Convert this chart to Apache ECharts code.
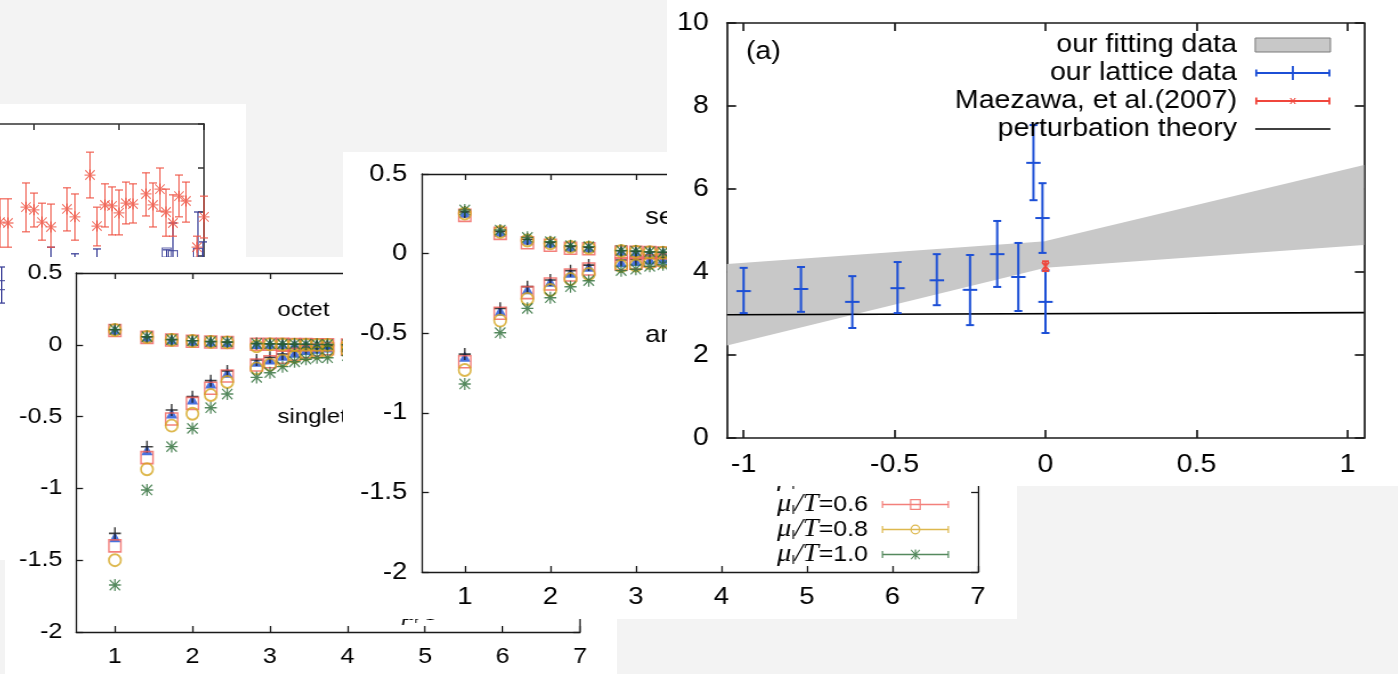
<!DOCTYPE html>
<html><head><meta charset="utf-8">
<script src="https://cdn.jsdelivr.net/npm/echarts@6.0.0/dist/echarts.min.js"></script>
<style>
html,body{margin:0;padding:0;}
body{width:1398px;height:674px;background:#f3f3f3;position:relative;overflow:hidden;}
.panel{position:absolute;background:#fff;overflow:hidden;}
.inner{position:absolute;top:0;left:0;transform-origin:0 0;}
</style></head><body>
<div id="pA" class="panel"><div id="cA" class="inner"></div></div>
<div id="pB" class="panel"><div id="cB" class="inner"></div></div>
<div id="pC" class="panel"><div id="cC" class="inner"></div></div>
<div id="pD" class="panel"><div id="cD" class="inner"></div></div>
<script>
// ================= DATA =================
// Panel A (upper-left, mostly covered figure)
const aRedX  = [1.600,1.694,1.906,2.000,2.094,2.200,2.388,2.482,2.659,2.741,2.835,2.918,3.000,3.082,3.165,3.318,3.400,3.482,3.553,3.635,3.706,3.788,3.918,4.000];
const aRedY  = [7.77,7.75,8.11,8.05,7.77,7.66,8.07,7.89,8.84,7.68,8.16,8.14,7.98,8.20,8.18,8.41,8.16,8.52,8.00,7.75,8.36,8.25,7.20,7.89];
const aRedLo = [7.20,7.20,7.55,7.66,7.36,7.20,7.57,7.36,8.32,7.23,7.66,7.48,7.48,7.73,7.75,7.91,7.66,8.02,7.45,7.45,7.89,7.77,6.95,7.41];
const aRedHi = [8.30,8.30,8.66,8.43,8.20,8.18,8.55,8.41,9.36,8.11,8.64,8.57,8.50,8.68,8.64,8.89,8.66,9.00,8.52,8.39,8.84,8.68,7.45,8.36];
const aBlueX = [1.62,2.200,2.482,2.741,3.561,3.635,3.929,3.988];
const aBlueY = [6.34,6.60,6.50,6.60,7.08,7.02,7.07,6.70];
const aBlueLo= [5.93,6.00,5.90,6.00,6.60,6.40,6.50,6.20];
const aBlueHi= [6.75,7.20,7.05,7.16,7.14,7.75,8.00,7.32];

// Series names / tick labels
const muNames = ['μl/T=0.2','μl/T=0.4','μl/T=0.6','μl/T=0.8','μl/T=1.0'];
const xTicks17 = [1,2,3,4,5,6,7];
const xTicksD = [-1,-0.5,0,0.5,1];

// Panel B (octet / singlet)
const bX = [1,1.414,1.732,2,2.236,2.449,2.828,3,3.162,3.317,3.464,3.606,3.742,4];
const bOctet02 = [0.105,0.055,0.036,0.028,0.022,0.019,0.008,0.006,0.005,0.004,0.003,0.002,0.002,0.001];
const bOctet04 = [0.104,0.054,0.035,0.027,0.021,0.018,0.007,0.006,0.005,0.004,0.003,0.002,0.002,0.001];
const bOctet06 = [0.100,0.052,0.033,0.025,0.019,0.016,0.004,0.004,0.003,0.002,0.001,0.000,0.000,-0.001];
const bOctet08 = [0.103,0.054,0.034,0.026,0.020,0.017,-0.010,0.003,0.002,0.001,0.000,-0.001,-0.001,-0.002];
const bOctet10 = [0.107,0.057,0.037,0.029,0.023,0.020,0.009,0.007,0.006,0.005,0.004,0.003,0.002,0.001];
const bSinglet02 = [-1.313,-0.710,-0.454,-0.361,-0.250,-0.182,-0.106,-0.087,-0.064,-0.043,-0.024,-0.018,-0.008,-0.010];
const bSinglet04 = [-1.340,-0.733,-0.477,-0.380,-0.268,-0.194,-0.118,-0.101,-0.076,-0.055,-0.036,-0.027,-0.018,-0.020];
const bSinglet06 = [-1.400,-0.786,-0.517,-0.408,-0.303,-0.217,-0.141,-0.118,-0.087,-0.066,-0.048,-0.036,-0.027,-0.030];
const bSinglet08 = [-1.500,-0.867,-0.563,-0.480,-0.350,-0.259,-0.164,-0.138,-0.110,-0.083,-0.066,-0.055,-0.048,-0.045];
const bSinglet10 = [-1.673,-1.011,-0.709,-0.582,-0.438,-0.343,-0.227,-0.194,-0.152,-0.118,-0.100,-0.090,-0.090,-0.075];

// Panel C (sextet / antitriplet)
const cX = [1,1.414,1.732,2,2.236,2.449,2.828,3,3.162,3.317];
const cSextet02 = [0.262,0.140,0.090,0.070,0.045,0.040,0.018,0.014,0.010,0.008];
const cSextet04 = [0.258,0.138,0.088,0.068,0.044,0.039,0.017,0.013,0.009,0.007];
const cSextet06 = [0.240,0.127,0.068,0.052,0.034,0.030,0.010,0.008,0.006,0.004];
const cSextet08 = [0.252,0.136,0.082,0.064,0.042,0.037,0.016,0.012,0.009,0.006];
const cSextet10 = [0.274,0.148,0.102,0.075,0.050,0.044,0.020,0.016,0.012,0.009];
const cAnti02 = [-0.631,-0.344,-0.208,-0.166,-0.107,-0.072,-0.040,-0.036,-0.029,-0.025];
const cAnti04 = [-0.647,-0.358,-0.224,-0.176,-0.120,-0.082,-0.053,-0.046,-0.036,-0.032];
const cAnti06 = [-0.679,-0.375,-0.245,-0.191,-0.134,-0.097,-0.065,-0.060,-0.046,-0.040];
const cAnti08 = [-0.731,-0.421,-0.285,-0.229,-0.160,-0.128,-0.078,-0.075,-0.060,-0.052];
const cAnti10 = [-0.819,-0.497,-0.344,-0.277,-0.208,-0.170,-0.107,-0.098,-0.080,-0.070];

// Panel D (a)
const dLatticeX  = [-1.00,-0.81,-0.64,-0.49,-0.36,-0.25,-0.16,-0.09,-0.04,-0.01,0.00];
const dLatticeY  = [3.54,3.59,3.28,3.61,3.80,3.57,4.43,3.88,6.63,5.30,3.28];
const dLatticeLo = [3.01,3.04,2.65,3.01,3.20,2.72,3.64,3.06,5.73,4.46,2.53];
const dLatticeHi = [4.10,4.12,3.90,4.24,4.43,4.41,5.23,4.70,7.54,6.14,4.03];
const dMaezawaX = [0.00], dMaezawaY = [4.14], dMaezawaLo = [4.02], dMaezawaHi = [4.26];
const dBandX  = [-1.055, 0.0, 0.0, 1.055];
const dBandLo = [2.23, 4.10, 4.10, 4.65];
const dBandHi = [4.19, 4.74, 4.75, 6.58];
const dBandId = [0, 0, 1, 1];
const dPertX = [-1.055, 1.055];
const dPertY = [2.97, 3.02];
const dLegendNames = ['our fitting data','our lattice data','Maezawa, et al.(2007)','perturbation theory'];

// ================= LAYOUT / STYLE =================
const FONT = "'Liberation Sans', Arial, Helvetica, sans-serif";
const SERIF = "'Liberation Serif', 'DejaVu Serif', serif";
const S = 1.14; // horizontal stretch of the scanned figures
const LAY = {
  A: {left:0, top:104, w:246, h:456},
  B: {left:5, top:257, w:612, h:417, plot:[76,273,579,632]},
  C: {left:343, top:152, w:674, h:467, plot:[422,174,978,572]},
  D: {left:667, top:0, w:731, h:486, plot:[727,23,1364,438]}
};
['A','B','C','D'].forEach(k => {
  const p = document.getElementById('p' + k), L = LAY[k];
  p.style.left = L.left + 'px'; p.style.top = L.top + 'px';
  p.style.width = L.w + 'px'; p.style.height = L.h + 'px';
});
function chartIn(id, w, h, stretch, offX) {
  const el = document.getElementById(id);
  const iw = w / stretch;
  el.style.width = iw + 'px'; el.style.height = h + 'px';
  el.style.left = (offX || 0) + 'px';
  if (stretch !== 1) el.style.transform = 'scaleX(' + stretch + ')';
  return echarts.init(el, null, {renderer:'canvas', width: iw, height: h});
}
function gridFor(L) {
  return {left:(L.plot[0]-L.left)/S, top:L.plot[1]-L.top, width:(L.plot[2]-L.plot[0])/S,
          height:L.plot[3]-L.plot[1], containLabel:false, outerBoundsMode:'none'};
}
function boxAxes(c) {
  const ls = {color:c.axisColor || '#1a1a1a', width:c.lw};
  const tick = (cv) => Object.assign({show:true, inside:true, length:c.tickLen, lineStyle:ls}, cv ? {customValues:cv} : {});
  const lab = (show, margin, cv) => Object.assign({show, margin, color:'#000', fontSize:c.fs, fontFamily:FONT}, cv ? {customValues:cv} : {});
  const xb = {type:'value', min:c.xmin, max:c.xmax, splitLine:{show:false}, axisLine:{show:true, onZero:false, lineStyle:ls}};
  const yb = {type:'value', min:c.ymin, max:c.ymax, interval:c.yInterval, splitLine:{show:false}, axisLine:{show:true, onZero:false, lineStyle:ls}};
  return {
    xAxis:[
      Object.assign({}, xb, {position:'bottom', axisTick:tick(c.xTicks), axisLabel:lab(c.labels, c.xMargin, c.xTicks)}),
      Object.assign({}, xb, {position:'top', axisTick:tick(c.xTicks), axisLabel:{show:false}})
    ],
    yAxis:[
      Object.assign({}, yb, {position:'left', axisTick:tick(null), axisLabel:lab(c.labels, c.yMargin, null)}),
      Object.assign({}, yb, {position:'right', axisTick:tick(null), axisLabel:{show:false}})
    ]
  };
}
function errRender(color, lw, cap, tick) {
  return function (params, api) {
    const x = api.value(0), c = api.value(1), lo = api.value(2), hi = api.value(3);
    const p = api.coord([x, c]), pl = api.coord([x, lo]), ph = api.coord([x, hi]);
    const st = {stroke:color, lineWidth:lw};
    const ch = [
      {type:'line', shape:{x1:p[0], y1:pl[1], x2:p[0], y2:ph[1]}, style:st},
      {type:'line', shape:{x1:p[0]-cap, y1:pl[1], x2:p[0]+cap, y2:pl[1]}, style:st},
      {type:'line', shape:{x1:p[0]-cap, y1:ph[1], x2:p[0]+cap, y2:ph[1]}, style:st}
    ];
    if (tick) ch.push({type:'line', shape:{x1:p[0]-tick, y1:p[1], x2:p[0]+tick, y2:p[1]}, style:st});
    return {type:'group', children:ch};
  };
}
function rows4(x, y, lo, hi) { return x.map((v,i) => [v, y[i], lo[i], hi[i]]); }

const SYM_PLUS = 'path://M4.3,0h1.4v10h-1.4z M0,4.3h10v1.4h-10z';
const SYM_AST = 'path://M4.4,0h1.2v10h-1.2z M0,4.4h10v1.2h-10z M1.1,0.3L9.7,8.9L8.9,9.7L0.3,1.1Z M8.9,0.3L9.7,1.1L1.1,9.7L0.3,8.9Z';
const MU_COLORS = ['#111111','#1c4fd6','#f0605a','#d4a622','#2b6b36'];
const MU_STYLE = [
  {symbol:SYM_PLUS, w:1, h:1, item:{color:'#111111'}},
  {symbol:'triangle', w:0.95, h:0.85, item:{color:'#1c4fd6'}},
  {symbol:'rect', w:1, h:1, item:{color:'rgba(0,0,0,0)', borderColor:'#f0605a', borderWidth:1.5}},
  {symbol:'circle', w:1, h:1, item:{color:'rgba(0,0,0,0)', borderColor:'#d4a622', borderWidth:1.8}},
  {symbol:SYM_AST, w:1, h:1, item:{color:'#2b6b36'}}
];
const LEG_BASE = 'path://M0,5.3h59v1.4h-59z M0,2.5h1.2v7h-1.2z M57.8,2.5h1.2v7h-1.2z ';
const LEG_ICON = [
  LEG_BASE + 'M29,1h1.2v10h-1.2z M24.5,5.3h10v1.4h-10z',
  LEG_BASE + 'M29.5,1L34.5,10L24.5,10Z',
  LEG_BASE + 'M24.7,0.5h9.6v11h-9.6z M25.9,1.7v8.6h7.2v-8.6z',
  LEG_BASE + 'M25.1,6A4.4,5 0 0,1 33.9,6A4.4,5 0 0,1 25.1,6Z M26.3,6A3.2,3.8 0 0,0 32.7,6A3.2,3.8 0 0,0 26.3,6Z',
  LEG_BASE + 'M29,1h1.2v10h-1.2z M24.5,5.3h10v1.4h-10z M25.3,1.7L26,1L33.7,10.3L33,11Z M33,1L33.7,1.7L26,11L25.3,10.3Z'
];
function muSeries(k, xs, up, lo, size) {
  const data = xs.map((x,i) => [x, up[i]]).concat(xs.map((x,i) => [x, lo[i]]));
  const st = MU_STYLE[k];
  return {type:'scatter', name:muNames[k], data, symbol:st.symbol,
          symbolSize:[size*st.w/S, size*st.h], itemStyle:st.item, z:3, animation:false};
}
function muLegend(right, top, iw, ih, fs, lh, pad) {
  return {
    orient:'vertical', right, top, align:'right', padding:0, itemGap:0,
    itemWidth:iw, itemHeight:ih, selectedMode:false, symbolKeepAspect:true,
    data: muNames.map((n,k) => ({name:n, icon:LEG_ICON[k], itemStyle:{color:MU_COLORS[k], borderWidth:0}})),
    formatter: n => '{mu|μ}{sub|l}{it|/T}{n|=' + n.split('=')[1] + '}',
    textStyle:{color:'#000', padding:[0,pad,0,0], rich:{
      mu:{fontFamily:SERIF, fontStyle:'italic', fontSize:fs+3, lineHeight:lh, color:'#000'},
      sub:{fontFamily:FONT, fontSize:Math.round(fs*0.6), lineHeight:Math.round(fs*0.6), verticalAlign:'bottom', color:'#000'},
      it:{fontFamily:SERIF, fontStyle:'italic', fontSize:fs+3, lineHeight:lh, color:'#000'},
      n:{fontFamily:FONT, fontSize:fs, lineHeight:lh, color:'#000'}
    }}
  };
}
function label(x, y, text, fs) {
  return {type:'text', x, y, style:{text, fontSize:fs, fontFamily:FONT, fill:'#000', verticalAlign:'middle'}};
}

// ================= PANEL A =================
(function () {
  const ch = chartIn('cA', 396, LAY.A.h, 1, -150);
  const ax = boxAxes({xmin:0, xmax:4, xTicks:[1,2,3,4], ymin:0, ymax:10, yInterval:1, fs:12,
                      labels:false, xMargin:8, yMargin:8, tickLen:6, lw:1.5, axisColor:'#333'});
  ch.setOption({
    animation:false,
    grid:{left:14, top:20, width:340, height:440, containLabel:false, outerBoundsMode:'none'},
    xAxis:ax.xAxis, yAxis:ax.yAxis,
    series:[
      {type:'custom', data:rows4(aBlueX,aBlueY,aBlueLo,aBlueHi), renderItem:errRender('#3d4299',1.3,4,0), encode:{x:0,y:[1,2,3]}, z:2},
      {type:'scatter', data:aBlueX.map((x,i)=>[x,aBlueY[i]]), symbol:'rect', symbolSize:9,
       itemStyle:{color:'rgba(0,0,0,0)', borderColor:'#3d4299', borderWidth:1.2}, z:2},
      {type:'custom', data:rows4(aRedX,aRedY,aRedLo,aRedHi), renderItem:errRender('rgba(238,84,68,0.85)',1.3,4,0), encode:{x:0,y:[1,2,3]}, z:3},
      {type:'scatter', data:aRedX.map((x,i)=>[x,aRedY[i]]), symbol:SYM_AST, symbolSize:11,
       itemStyle:{color:'rgba(238,84,68,0.9)'}, z:4}
    ]
  });
})();

// ================= PANEL B =================
(function () {
  const L = LAY.B;
  const ch = chartIn('cB', L.w, L.h, S, 0);
  const ax = boxAxes({xmin:0.5, xmax:7, xTicks:xTicks17, ymin:-2, ymax:0.5, yInterval:0.5, fs:22,
                      labels:true, xMargin:14, yMargin:12, tickLen:6, lw:1.3});
  const octs = [bOctet02,bOctet04,bOctet06,bOctet08,bOctet10];
  const sings = [bSinglet02,bSinglet04,bSinglet06,bSinglet08,bSinglet10];
  ch.setOption({
    animation:false,
    grid:gridFor(L), xAxis:ax.xAxis, yAxis:ax.yAxis,
    legend:muLegend(56, 258, 53, 11, 19, 22, 6),
    graphic:[label((277-L.left)/S, 310-L.top, 'octet', 21), label((277-L.left)/S, 417-L.top, 'singlet', 21)],
    series:[1,0,2,3,4].map(k => muSeries(k, bX, octs[k], sings[k], 12))
  });
})();

// ================= PANEL C =================
(function () {
  const L = LAY.C;
  const ch = chartIn('cC', L.w, L.h, S, 0);
  const ax = boxAxes({xmin:0.5, xmax:7, xTicks:xTicks17, ymin:-2, ymax:0.5, yInterval:0.5, fs:24,
                      labels:true, xMargin:13, yMargin:13, tickLen:6, lw:1.3});
  const ups = [cSextet02,cSextet04,cSextet06,cSextet08,cSextet10];
  const los = [cAnti02,cAnti04,cAnti06,cAnti08,cAnti10];
  const iw = L.w / S;
  ch.setOption({
    animation:false,
    grid:gridFor(L), xAxis:ax.xAxis, yAxis:ax.yAxis,
    legend:muLegend(iw - (949-L.left)/S, 442-L.top, 59, 12, 22, 24.5, 7),
    graphic:[label((645-L.left)/S, 217-L.top, 'sextet', 24), label((645-L.left)/S, 335-L.top, 'antitriplet', 24)],
    series:[1,0,2,3,4].map(k => muSeries(k, cX, ups[k], los[k], 12))
  });
})();

// ================= PANEL D =================
(function () {
  const L = LAY.D;
  const ch = chartIn('cD', L.w, L.h, S, 0);
  const ax = boxAxes({xmin:-1.055, xmax:1.055, xTicks:xTicksD, ymin:0, ymax:10, yInterval:2, fs:25,
                      labels:true, xMargin:15, yMargin:16, tickLen:8, lw:1.7});
  const iw = L.w / S;
  const bandRows = dBandX.map((x,i) => [x, dBandLo[i], dBandHi[i], dBandId[i]]);
  const BLUE = '#1c4fd6', RED = '#f0463c';
  const maezRender = function (params, api) {
    const g = errRender(RED, 1.8, 3, 0)(params, api);
    const p = api.coord([api.value(0), api.value(1)]);
    const st = {stroke:RED, lineWidth:1.8};
    g.children.push({type:'line', shape:{x1:p[0]-3, y1:p[1]-4, x2:p[0]+3, y2:p[1]+4}, style:st});
    g.children.push({type:'line', shape:{x1:p[0]-3, y1:p[1]+4, x2:p[0]+3, y2:p[1]-4}, style:st});
    return g;
  };
  const bandRender = function (params, api) {
    const i = params.dataIndexInside, n = params.dataInsideLength;
    if (i >= n - 1 || api.value(3, i) !== api.value(3, i + 1)) return null;
    const a = api.coord([api.value(0,i), api.value(1,i)]);
    const b = api.coord([api.value(0,i+1), api.value(1,i+1)]);
    const c = api.coord([api.value(0,i+1), api.value(2,i+1)]);
    const d = api.coord([api.value(0,i), api.value(2,i)]);
    return {type:'polygon', shape:{points:[a,b,c,d]}, style:{fill:'#c8c8c8'}};
  };
  ch.setOption({
    animation:false,
    grid:gridFor(L), xAxis:ax.xAxis, yAxis:ax.yAxis,
    legend:{
      orient:'vertical', right: iw - (1331-L.left)/S, top:31, align:'right', padding:0, itemGap:0,
      itemWidth:66, itemHeight:14, selectedMode:false, symbolKeepAspect:true,
      textStyle:{color:'#000', fontSize:25, fontFamily:FONT, lineHeight:28, padding:[0,11,0,0]},
      data:[
        {name:dLegendNames[0], icon:'rect', itemStyle:{color:'#c8c8c8', borderColor:'#7a7a7a', borderWidth:1}},
        {name:dLegendNames[1], icon:'path://M0,6.1h66v1.8h-66z M0,3.5h1.8v7h-1.8z M64.2,3.5h1.8v7h-1.8z M32.1,0h1.8v14h-1.8z', itemStyle:{color:BLUE, borderWidth:0}},
        {name:dLegendNames[2], icon:'path://M0,6.1h66v1.8h-66z M0,3.5h1.8v7h-1.8z M64.2,3.5h1.8v7h-1.8z M30.2,4L31.4,4L35.8,10L34.6,10Z M34.6,4L35.8,4L31.4,10L30.2,10Z', itemStyle:{color:RED, borderWidth:0}},
        {name:dLegendNames[3], icon:'path://M0,0h66v1.7h-66z', itemStyle:{color:'#000', borderWidth:0}}
      ]
    },
    graphic:[label((746-L.left)/S, 52, '(a)', 25)],
    series:[
      {type:'custom', name:dLegendNames[0], data:bandRows, renderItem:bandRender, encode:{x:0, y:[1,2]},
       itemStyle:{color:'#c8c8c8'}, z:1, clip:true},
      {type:'line', name:dLegendNames[3], data:dPertX.map((x,i)=>[x, dPertY[i]]), symbol:'none',
       lineStyle:{color:'#000', width:1.7}, itemStyle:{color:'#000'}, z:2},
      {type:'custom', name:dLegendNames[1], data:rows4(dLatticeX,dLatticeY,dLatticeLo,dLatticeHi),
       renderItem:errRender(BLUE, 2, 3.5, 6.3), encode:{x:0, y:[1,2,3]}, itemStyle:{color:BLUE}, z:3},
      {type:'custom', name:dLegendNames[2], data:rows4(dMaezawaX,dMaezawaY,dMaezawaLo,dMaezawaHi),
       renderItem:maezRender, encode:{x:0, y:[1,2,3]}, itemStyle:{color:RED}, z:4}
    ]
  });
})();
</script></body></html>
